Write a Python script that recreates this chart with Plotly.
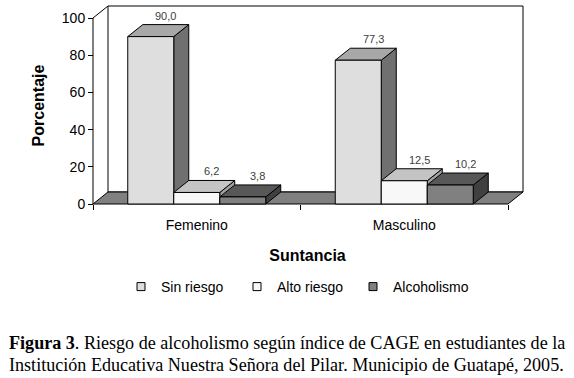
import plotly.graph_objects as go

# ---------------- data ----------------
categories = ["Femenino", "Masculino"]
series_names = ["Sin riesgo", "Alto riesgo", "Alcoholismo"]
sin_riesgo = [90.0, 77.3]
alto_riesgo = [6.2, 12.5]
alcoholismo = [3.8, 10.2]
y_ticks = [0, 20, 40, 60, 80, 100]
x_title = "Suntancia"
y_title = "Porcentaje"
caption_1 = "<b>Figura 3</b>. Riesgo de alcoholismo según índice de CAGE en estudiantes de la"
caption_2 = "Institución Educativa Nuestra Señora del Pilar. Municipio de Guatapé, 2005."

values = [sin_riesgo, alto_riesgo, alcoholismo]

# ---------------- styling ----------------
front_col = ["#dedede", "#f8f8f8", "#808080"]
top_col = ["#a8a8a8", "#c4c4c4", "#585858"]
side_col = ["#707070", "#a0a0a0", "#404040"]
floor_col = "#808080"
FONT = "Liberation Sans, Arial, sans-serif"
SERIF = "Liberation Serif, Times New Roman, serif"

W, H = 574, 378
PX_X = 207.5      # pixels per category unit
PX_Y = 1.86       # pixels per percent
L, R, T, B = 89, 526, 3, 208   # plot area edges (px)
AX_X, AX_Y = 93, 204           # front axis corner (px)

xr0 = -0.5 - (AX_X - L) / PX_X
xr1 = xr0 + (R - L) / PX_X
yr0 = -(B - AX_Y) / PX_Y
yr1 = yr0 + (B - T) / PX_Y
DX = 15 / PX_X     # depth offset in x units
DY = 12 / PX_Y     # depth offset in y units
BW = 46 / PX_X     # bar width in x units

xs = list(range(len(categories)))
x_lo, x_hi = -0.5, len(categories) - 0.5

fig = go.Figure()

shapes = []
shapes.append(dict(type="rect", xref="x", yref="y", x0=x_lo + DX, x1=x_hi + DX,
                   y0=DY, y1=y_ticks[-1] + DY, fillcolor="white",
                   line=dict(color="black", width=1), layer="below"))
shapes.append(dict(type="line", xref="x", yref="y", x0=x_lo, y0=y_ticks[-1],
                   x1=x_lo + DX, y1=y_ticks[-1] + DY,
                   line=dict(color="black", width=1), layer="below"))
shapes.append(dict(type="line", xref="x", yref="y", x0=x_lo, y0=0,
                   x1=x_lo, y1=y_ticks[-1],
                   line=dict(color="black", width=1), layer="below"))
shapes.append(dict(type="path", xref="x", yref="y",
                   path=f"M {x_lo},0 L {x_lo + DX},{DY} L {x_hi + DX},{DY} L {x_hi},0 Z",
                   fillcolor=floor_col, line=dict(color="black", width=1), layer="below"))

annotations = []
for i, xc in enumerate(xs):
    for k, vals in enumerate(values):
        v = vals[i]
        xl = xc + (k - 1.5) * BW
        xr = xl + BW
        shapes.append(dict(type="path", xref="x", yref="y",
                           path=f"M {xr},0 L {xr + DX},{DY} L {xr + DX},{v + DY} L {xr},{v} Z",
                           fillcolor=side_col[k], line=dict(color="black", width=1),
                           layer="below"))
        shapes.append(dict(type="path", xref="x", yref="y",
                           path=f"M {xl},{v} L {xl + DX},{v + DY} L {xr + DX},{v + DY} L {xr},{v} Z",
                           fillcolor=top_col[k], line=dict(color="black", width=1),
                           layer="below"))
        annotations.append(dict(x=(xl + xr) / 2 + DX, y=v + DY, xref="x", yref="y",
                                text=f"{v:.1f}".replace(".", ","), showarrow=False,
                                yanchor="bottom", yshift=1,
                                font=dict(family=FONT, size=11, color="#404040")))

for k, vals in enumerate(values):
    fig.add_trace(go.Bar(
        x=xs, y=vals, name=series_names[k], width=BW, offset=(k - 1.5) * BW,
        marker=dict(color=front_col[k], line=dict(color="black", width=1)),
        showlegend=False, hoverinfo="skip"))

for k, name in enumerate(series_names):
    fig.add_trace(go.Scatter(
        x=[None], y=[None], mode="markers", name=name,
        marker=dict(symbol="square", size=8, color=front_col[k],
                    line=dict(color="black", width=1))))

CAP_SIZE = 18.1
annotations.append(dict(xref="paper", yref="paper", x=(7 - L) / (R - L),
                        y=-(343 - B) / (B - T), xanchor="left", yanchor="middle",
                        text=caption_1, showarrow=False,
                        font=dict(family=SERIF, size=CAP_SIZE, color="black")))
annotations.append(dict(xref="paper", yref="paper", x=(7 - L) / (R - L),
                        y=-(365 - B) / (B - T), xanchor="left", yanchor="middle",
                        text=caption_2, showarrow=False,
                        font=dict(family=SERIF, size=CAP_SIZE, color="black")))

fig.update_layout(
    width=W, height=H,
    margin=dict(l=L, r=W - R, t=T, b=H - B, pad=0, autoexpand=False),
    paper_bgcolor="white", plot_bgcolor="white",
    barmode="overlay",
    font=dict(family=FONT, size=14, color="black"),
    shapes=shapes, annotations=annotations,
    showlegend=True,
    legend=dict(orientation="h", xref="container", yref="container",
                x=121 / W, y=1 - 287 / H, xanchor="left", yanchor="middle",
                font=dict(family=FONT, size=14, color="black"),
                entrywidth=71, bgcolor="rgba(0,0,0,0)"),
    xaxis=dict(range=[xr0, xr1], anchor="free", position=(B - AX_Y) / (B - T),
               automargin=False,
               tickmode="array", tickvals=xs, ticktext=categories, ticks="",
               showgrid=False, zeroline=False, showline=False,
               tickfont=dict(family=FONT, size=14, color="black"),
               ticklabelstandoff=11,
               minor=dict(tickmode="array", tickvals=[x_lo + j for j in range(len(categories) + 1)],
                          ticks="outside", ticklen=5, tickcolor="black", tickwidth=1,
                          showgrid=False),
               title=dict(text=f"<b>{x_title}</b>", standoff=17,
                          font=dict(family=FONT, size=16, color="black"))),
    yaxis=dict(range=[yr0, yr1], anchor="free", position=(AX_X - L) / (R - L),
               automargin=False,
               tickmode="array", tickvals=y_ticks, ticks="outside", ticklen=5,
               tickcolor="black", showgrid=False, zeroline=False, showline=False,
               tickfont=dict(family=FONT, size=14, color="black"),
               title=dict(text=f"<b>{y_title}</b>", standoff=12,
                          font=dict(family=FONT, size=16, color="black"))),
)

fig.write_html("out.html", config={"displayModeBar": False},
               post_script="document.body.style.margin='0';")
